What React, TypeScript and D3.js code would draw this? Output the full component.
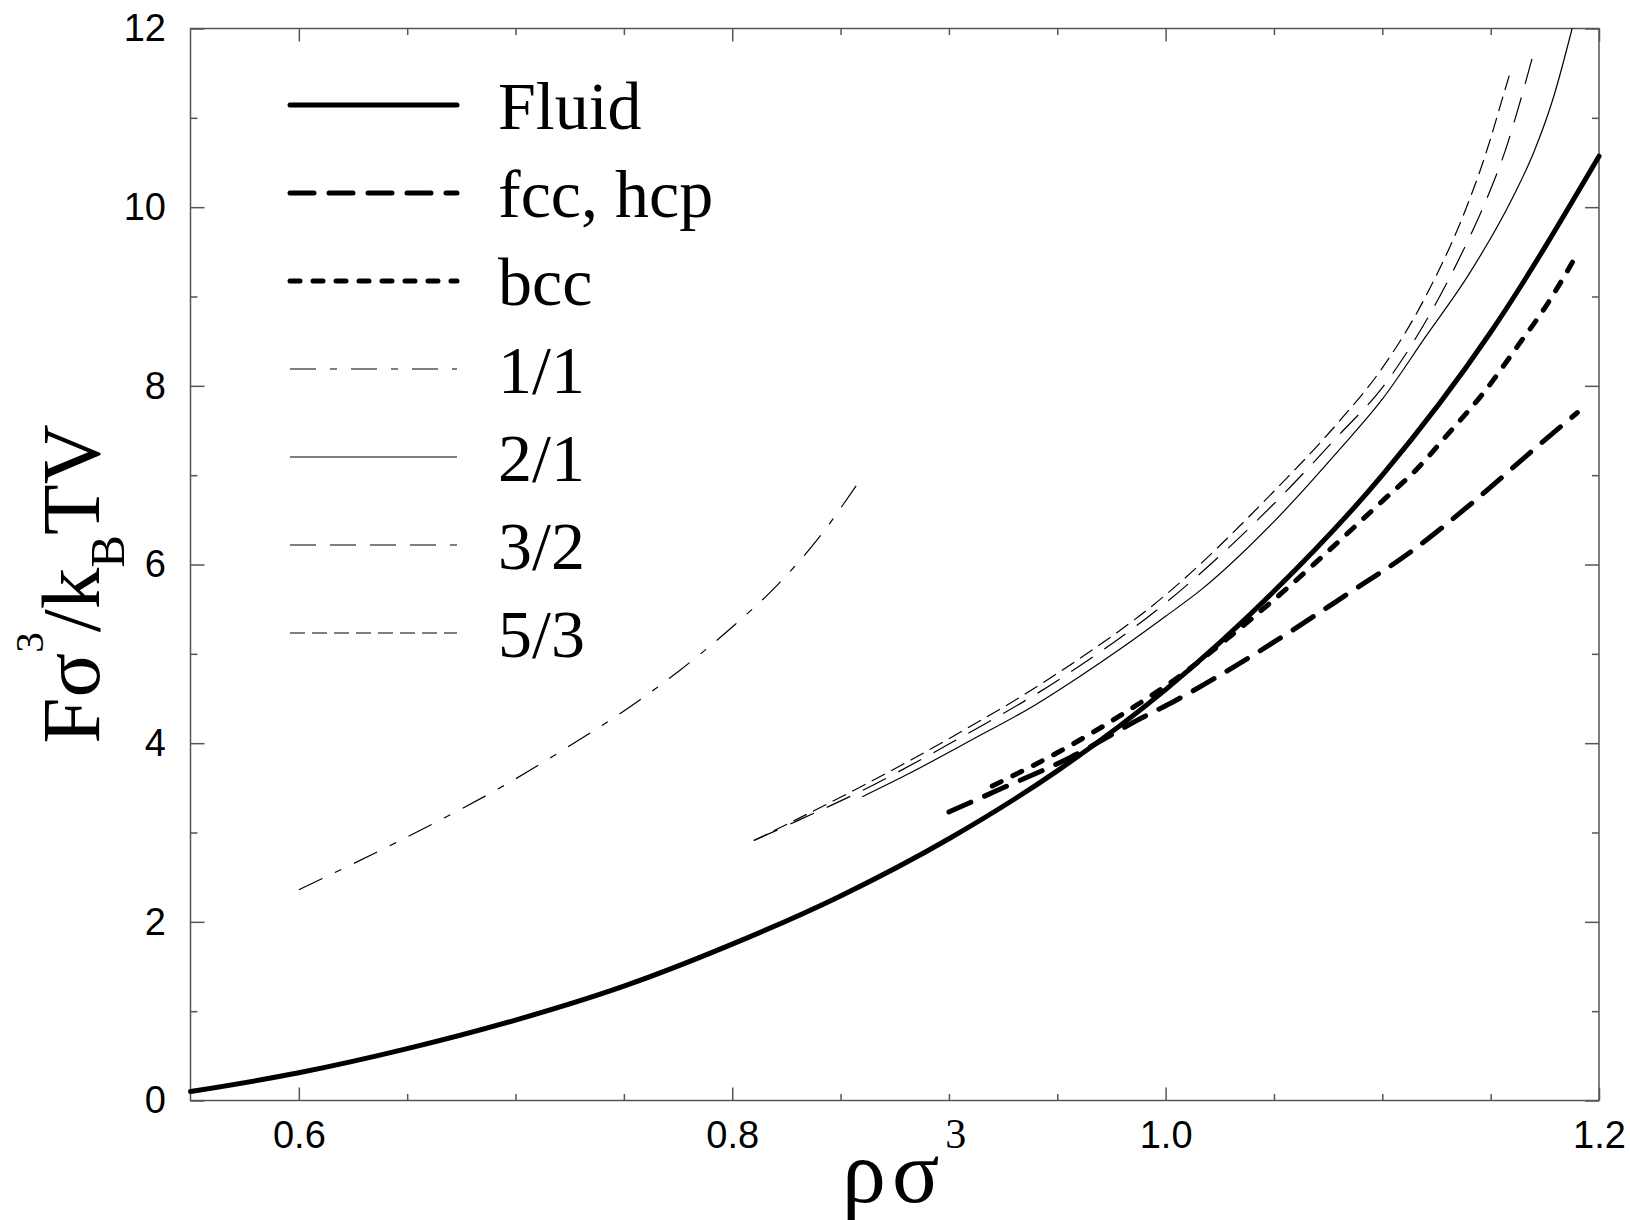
import React, { useEffect, useRef } from "react";
import * as d3 from "d3";

// curve values
const fluidX = [0.55, 0.6, 0.65, 0.7, 0.75, 0.8, 0.85, 0.9, 0.95, 1.0, 1.05, 1.1, 1.15, 1.2];
const fluidY = [0.1, 0.31, 0.58, 0.9, 1.28, 1.75, 2.29, 2.93, 3.69, 4.6, 5.7, 7.0, 8.6, 10.57];

const fccX = [0.9, 0.925, 0.956, 0.988, 1.004, 1.04, 1.084, 1.113, 1.141, 1.171, 1.19];
const fccY = [3.23, 3.5, 3.84, 4.27, 4.47, 4.98, 5.67, 6.14, 6.68, 7.31, 7.7];

const bccX = [0.92, 0.955, 0.985, 1.007, 1.03, 1.054, 1.084, 1.1, 1.116, 1.131, 1.147, 1.162, 1.176, 1.19];
const bccY = [3.52, 3.96, 4.4, 4.76, 5.2, 5.69, 6.35, 6.71, 7.07, 7.48, 7.93, 8.43, 8.91, 9.48];

const r11X = [0.6, 0.65, 0.7, 0.725, 0.75, 0.775, 0.8, 0.82, 0.84, 0.858];
const r11Y = [2.36, 2.95, 3.6, 3.97, 4.36, 4.8, 5.3, 5.75, 6.3, 6.91];

const r21X = [0.86, 0.88, 0.91, 0.94, 0.96, 0.98, 1.0, 1.016, 1.05, 1.08, 1.1, 1.12, 1.14, 1.16, 1.17, 1.179, 1.1876];
const r21Y = [3.4, 3.64, 4.03, 4.43, 4.74, 5.07, 5.42, 5.71, 6.48, 7.28, 7.85, 8.55, 9.25, 10.1, 10.62, 11.23, 12.0];

const r32X = [0.81, 0.83, 0.86, 0.9, 0.95, 1.0, 1.05, 1.08, 1.1, 1.12, 1.135, 1.15, 1.1567, 1.1624, 1.1693];
const r32Y = [2.91, 3.13, 3.47, 3.99, 4.7, 5.57, 6.68, 7.45, 7.98, 8.72, 9.4, 10.2, 10.63, 11.08, 11.68];

const r53X = [0.81, 0.83, 0.86, 0.9, 0.95, 1.0, 1.05, 1.08, 1.1, 1.12, 1.14, 1.145, 1.15, 1.154, 1.1594];
const r53Y = [2.91, 3.15, 3.52, 4.05, 4.78, 5.66, 6.82, 7.6, 8.2, 9.0, 10.07, 10.4, 10.77, 11.1, 11.54];

const legendLabels = ["Fluid", "fcc, hcp", "bcc", "1/1", "2/1", "3/2", "5/3"];

const xMajor = [0.6, 0.8, 1.0, 1.2];
const xTickLabels = ["0.6", "0.8", "1.0", "1.2"];
const xMinor = [0.65, 0.7, 0.75, 0.85, 0.9, 0.95, 1.05, 1.1, 1.15];
const yMajor = [0, 2, 4, 6, 8, 10, 12];
const yMinor = [1, 3, 5, 7, 9, 11];

// line styles, same order as legendLabels
const styles = [
  { w: 5, dash: null, cap: "round" },
  { w: 5, dash: "24 15", cap: "round" },
  { w: 5, dash: "10 13", cap: "round" },
  { w: 1.2, dash: "26 14 7 14", cap: "butt" },
  { w: 1.2, dash: null, cap: "butt" },
  { w: 1.2, dash: "26 14", cap: "butt" },
  { w: 1.2, dash: "15 7", cap: "butt" },
];

const zip = (xs: number[], ys: number[]) => xs.map((v, i) => [v, ys[i]] as [number, number]);

const series = [
  zip(fluidX, fluidY),
  zip(fccX, fccY),
  zip(bccX, bccY),
  zip(r11X, r11Y),
  zip(r21X, r21Y),
  zip(r32X, r32Y),
  zip(r53X, r53Y),
];

const sans = "'Liberation Sans', Arial, Helvetica, sans-serif";
const serif = "'Liberation Serif', 'Times New Roman', Times, serif";

const App = () => {
  const chartRef = useRef<SVGSVGElement>(null);

  useEffect(() => {
    drawChart();
  }, []);

  const drawChart = () => {
    const width = 1630;
    const height = 1220;
    const left = 190.5;
    const right = 1599;
    const top = 28.5;
    const bottom = 1100.5;

    const svg = d3.select(chartRef.current).attr("width", width).attr("height", height);
    svg.selectAll("*").remove();

    const x = d3.scaleLinear().domain([0.55, 1.2]).range([left, right]);
    const y = d3.scaleLinear().domain([0, 12]).range([bottom, top]);

    const axisCol = "#555";

    const styleAxis = (g: any) => {
      g.select(".domain").remove();
      g.selectAll(".tick line").attr("stroke", axisCol).attr("stroke-width", 1.5);
      g.selectAll("text").attr("font-family", sans).attr("font-size", 38).attr("fill", "#000");
    };

    // bottom
    svg.append("g").attr("transform", `translate(0,${bottom})`)
      .call(d3.axisBottom(x).tickValues(xMajor).tickSize(-13).tickPadding(20.5)
        .tickFormat((d, i) => xTickLabels[i]))
      .call(styleAxis);
    svg.append("g").attr("transform", `translate(0,${bottom})`)
      .call(d3.axisBottom(x).tickValues(xMinor).tickSize(-6.5).tickFormat(() => ""))
      .call(styleAxis);
    // top
    svg.append("g").attr("transform", `translate(0,${top})`)
      .call(d3.axisTop(x).tickValues(xMajor).tickSize(-13).tickFormat(() => ""))
      .call(styleAxis);
    svg.append("g").attr("transform", `translate(0,${top})`)
      .call(d3.axisTop(x).tickValues(xMinor).tickSize(-6.5).tickFormat(() => ""))
      .call(styleAxis);
    // left
    svg.append("g").attr("transform", `translate(${left},0)`)
      .call(d3.axisLeft(y).tickValues(yMajor).tickSize(-14).tickPadding(24.5)
        .tickFormat(d3.format("d")))
      .call(styleAxis);
    svg.append("g").attr("transform", `translate(${left},0)`)
      .call(d3.axisLeft(y).tickValues(yMinor).tickSize(-7).tickFormat(() => ""))
      .call(styleAxis);
    // right
    svg.append("g").attr("transform", `translate(${right},0)`)
      .call(d3.axisRight(y).tickValues(yMajor).tickSize(-14).tickFormat(() => ""))
      .call(styleAxis);
    svg.append("g").attr("transform", `translate(${right},0)`)
      .call(d3.axisRight(y).tickValues(yMinor).tickSize(-7).tickFormat(() => ""))
      .call(styleAxis);

    // frame
    svg.append("rect")
      .attr("x", left).attr("y", top)
      .attr("width", right - left).attr("height", bottom - top)
      .attr("fill", "none").attr("stroke", axisCol).attr("stroke-width", 1.5);

    // curves
    const line = d3.line<[number, number]>()
      .x((d) => x(d[0]))
      .y((d) => y(d[1]))
      .curve(d3.curveMonotoneX);

    series.forEach((s, i) => {
      const st = styles[i];
      svg.append("path")
        .attr("d", line(s))
        .attr("fill", "none")
        .attr("stroke", "#000")
        .attr("stroke-width", st.w)
        .attr("stroke-linecap", st.cap)
        .attr("stroke-linejoin", "round")
        .attr("stroke-dasharray", st.dash);
    });

    // legend
    const lg = svg.append("g");
    legendLabels.forEach((lab, i) => {
      const st = styles[i];
      const ly = 105 + i * 88;
      lg.append("line")
        .attr("x1", 290).attr("x2", 457).attr("y1", ly).attr("y2", ly)
        .attr("stroke", "#000")
        .attr("stroke-width", st.w)
        .attr("stroke-linecap", st.cap)
        .attr("stroke-dasharray", st.dash);
      lg.append("text")
        .attr("x", 498).attr("y", ly + 24)
        .attr("font-family", serif).attr("font-size", 68)
        .text(lab);
    });

    // x label
    const xl = svg.append("text").attr("x", 842).attr("y", 1202)
      .attr("font-family", serif).attr("font-size", 88);
    xl.append("tspan").attr("letter-spacing", 6).text("ρσ");
    xl.append("tspan").attr("font-size", 42).attr("dy", -54).text("3");

    // y label
    const yl = svg.append("text")
      .attr("transform", "translate(99,584) rotate(-90)")
      .attr("text-anchor", "middle")
      .attr("font-family", serif).attr("font-size", 83);
    yl.append("tspan").text("Fσ");
    yl.append("tspan").attr("font-size", 41).attr("dy", -56).text("3");
    yl.append("tspan").attr("dy", 56).text("/k");
    yl.append("tspan").attr("font-size", 49).attr("dy", 25).text("B");
    yl.append("tspan").attr("dy", -25).text("TV");
  };

  return (
    <svg
      ref={chartRef}
      style={{ position: "absolute", left: 0, top: 0, display: "block", background: "#fff" }}
    ></svg>
  );
};

export default App;
